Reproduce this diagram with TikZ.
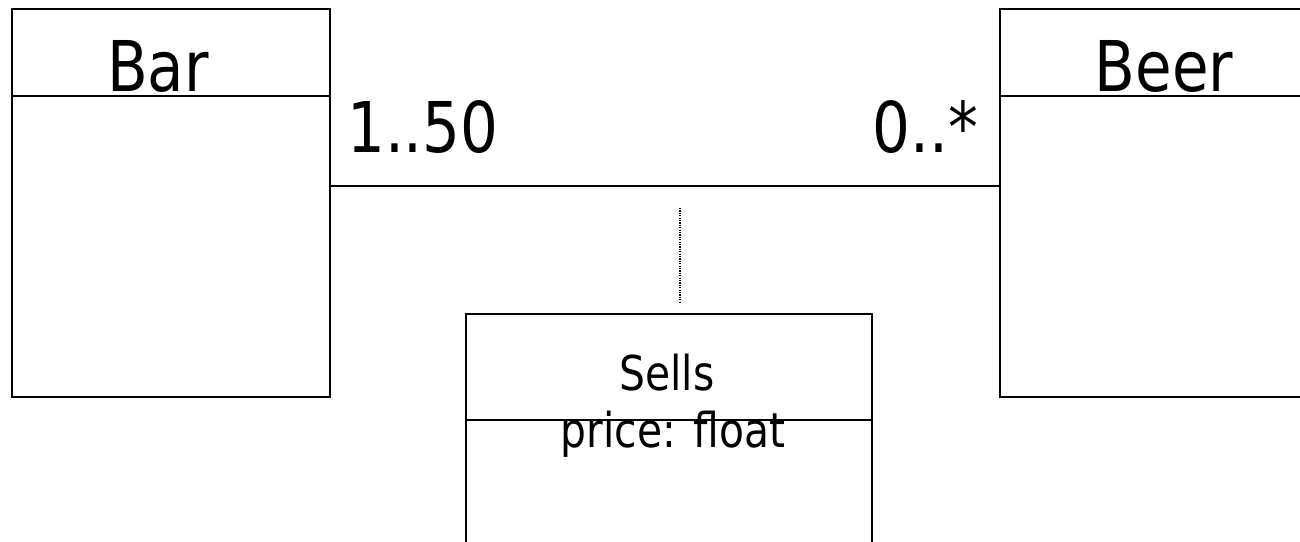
\documentclass[tikz,border=0pt]{standalone}
\usepackage{fontspec}
\setmainfont{DejaVu Sans}[FakeStretch=0.85]
\usepackage{tikz}
\usetikzlibrary{positioning}

\tikzset{
  classbox/.style={draw, line width=2pt, inner sep=0pt},
  divider/.style={line width=2pt},
  bigtext/.style={font=\fontsize{70}{84}\selectfont, inner sep=0pt},
  smalltext/.style={font=\fontsize{48}{58}\selectfont, inner sep=0pt},
}

\begin{document}
\begin{tikzpicture}[x=1pt, y=-1pt]

  % page frame
  \useasboundingbox (0,0) rectangle (1300,541);
  \clip (0,0) rectangle (1300,541);

  % the two classes
  \node[classbox, minimum width=318pt, minimum height=388pt] (bar) at (171,203) {};
  \node[classbox, minimum width=310pt, minimum height=388pt] (beer) at (1155,203) {};
  \draw[divider] ([yshift=-88pt]bar.north west) -- ([yshift=-88pt]bar.north east);
  \draw[divider] ([yshift=-88pt]beer.north west) -- ([yshift=-88pt]beer.north east);
  \node[bigtext, anchor=base] (barname) at (158,91) {Bar};
  \node[bigtext, anchor=base] (beername) at (1164,91) {Beer};

  % association with multiplicities
  \draw[divider] ([yshift=17pt]bar.east) -- ([yshift=17pt]beer.west);
  \node[bigtext, anchor=base west] (multbar) at (347,152) {1..50};
  \node[bigtext, anchor=base east] (multbeer) at (978,152) {0..*};

  % association class, hung from the line
  \node[classbox, minimum width=406pt, minimum height=246pt] (sells) at (669,437) {};
  \draw[divider] ([yshift=-107pt]sells.north west) -- ([yshift=-107pt]sells.north east);
  \node[smalltext, anchor=base] (sellsname) at (667,390) {Sells};
  \node[smalltext, anchor=base] (price) at (673,447) {price: float};

  \coordinate (dtop) at (680,208);
  \coordinate (dbot) at (680,302);
  \draw[line width=1.5pt, dash pattern=on 1.2pt off 1.2pt] (dtop) -- (dbot);

\end{tikzpicture}
\end{document}
